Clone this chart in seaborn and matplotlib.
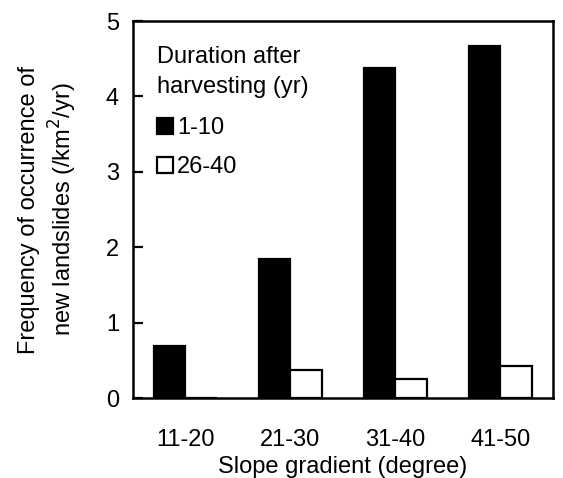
import matplotlib
matplotlib.use("Agg")
import matplotlib.pyplot as plt
import pandas as pd
import seaborn as sns

# values
slopes = ['11-20', '21-30', '31-40', '41-50']
freq_1_10 = [0.69, 1.84, 4.38, 4.67]
freq_26_40 = [0.0, 0.38, 0.26, 0.42]
durations = ['1-10', '26-40']

df = pd.DataFrame({
    'slope': slopes * 2,
    'freq': freq_1_10 + freq_26_40,
    'duration': [durations[0]] * 4 + [durations[1]] * 4,
})

sns.set_style('white')
plt.rcParams['font.family'] = ['Liberation Sans', 'DejaVu Sans']
for k in ['text.color', 'axes.labelcolor', 'xtick.color', 'ytick.color']:
    plt.rcParams[k] = 'black'

fig = plt.figure(figsize=(5.63, 4.78), dpi=100)
ax = fig.add_axes([0.236, 0.167, 0.746, 0.789])

sns.barplot(data=df, x='slope', y='freq', hue='duration', order=slopes,
            hue_order=durations, palette=['black', 'white'], width=0.6,
            edgecolor='black', linewidth=1.6, saturation=1, ax=ax)

ax.set_xlim(-0.5, 3.5)
ax.set_ylim(0, 5)
ax.set_yticks(range(6))
ax.set_xticks([0.5, 1.5, 2.5], minor=True)
ax.tick_params(axis='x', which='major', length=0, labelsize=17, pad=22)
ax.tick_params(axis='x', which='minor', direction='in', length=6, width=1.6)
ax.tick_params(axis='y', direction='in', length=7, width=1.6, labelsize=17, pad=10, left=True)
for s in ax.spines.values():
    s.set_linewidth(1.8)
    s.set_color('black')

ax.set_xlabel('Slope gradient (degree)', fontsize=17, labelpad=4)
ax.set_ylabel('Frequency of occurrence of\nnew landslides (/km$^2$/yr)', fontsize=17,
              labelpad=19, linespacing=1.3)

leg = ax.legend(title='Duration after\nharvesting (yr)', loc='upper left',
                bbox_to_anchor=(0.058, 0.935), borderaxespad=0, borderpad=0,
                frameon=False, fontsize=17, title_fontsize=17,
                handlelength=0.68, handleheight=0.68, handletextpad=0.15,
                labelspacing=0.7, alignment='left')
leg.get_title().set_linespacing(1.5)
leg._legend_box.sep = 14

fig.savefig('out.png', dpi=100)
